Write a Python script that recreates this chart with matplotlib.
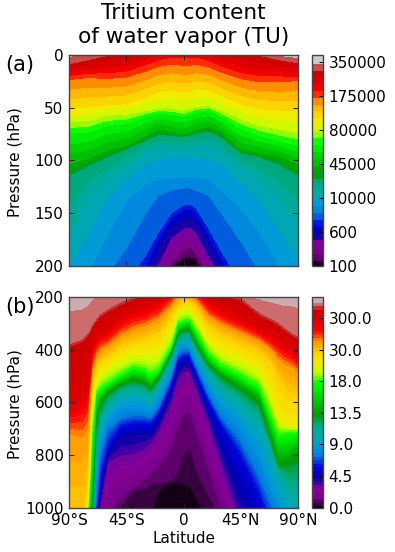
import matplotlib
matplotlib.use('Agg')
import matplotlib.pyplot as plt
import numpy as np

# panel (a): stratosphere, pressure (hPa) at which each colour level is met
lat_a = [-90, -75, -60, -45, -30, -20, -10, 0, 5, 10, 20, 30, 45, 60, 75, 90]
rows_a = {
    0: [260] * 16,
    1: [250, 250, 250, 245, 230, 220, 201, 192, 191, 193, 215, 230, 245, 250, 250, 252],
    2: [245, 245, 245, 240, 225, 215, 196, 184, 182, 187, 210, 225, 240, 245, 245, 247],
    3: [240, 240, 240, 235, 220, 208, 185, 173, 172, 175, 200, 218, 235, 240, 240, 242],
    4: [235, 235, 235, 230, 215, 197, 173, 164, 163, 167, 190, 210, 230, 235, 235, 237],
    5: [232, 232, 232, 226, 207, 182, 163, 155, 153, 157, 177, 200, 226, 232, 232, 234],
    6: [230, 228, 226, 222, 200, 174, 155, 147, 146, 150, 170, 193, 222, 226, 228, 230],
    7: [226, 224, 222, 215, 190, 168, 150, 142, 141, 145, 164, 186, 215, 222, 224, 226],
    8: [222, 218, 208, 183, 150, 133, 128, 126, 126, 128, 133, 150, 176, 206, 218, 222],
    9: [215, 207, 170, 138, 122, 118, 116, 115, 115, 116, 118, 128, 145, 168, 200, 212],
    10: [200, 170, 135, 118, 103, 99, 97, 96, 96, 97, 99, 103, 120, 137, 165, 192],
    11: [170, 135, 118, 105, 92, 87, 87, 88, 87, 86, 86, 92, 105, 118, 135, 160],
    13: [114, 104.5, 96.5, 88.5, 80.5, 75, 76, 77, 76, 74, 72, 77.5, 92, 96.5, 103, 114],
    15: [103, 98, 90, 85.5, 76, 69.5, 72, 74, 72, 69.5, 67.5, 72, 88.5, 92, 95, 103],
    18: [74, 73, 66.5, 65, 58.5, 55, 56, 58, 56, 54, 52, 58.5, 69.5, 76, 81, 85.5],
    20: [63, 62, 57, 56, 52, 50, 50, 52, 50, 48.5, 47.5, 52, 60, 66.5, 70, 73],
    22: [50.5, 49, 47, 46, 39.5, 35, 32.5, 35, 34, 31.5, 33, 38, 46, 50.5, 52, 52],
    25: [23, 21, 22, 20.5, 15, 10.5, 8.5, 9.5, 9.5, 8.5, 11, 16, 22, 25, 25, 24],
    27: [15, 13, 11, 9.5, 3, -1.5, -5, -6, -6, -5, -1.5, 4, 10.5, 13, 14, 16],
    29: [8, 4, 0, -5, -10, -11, -11, -11, -11, -11, -11, -10, -5, 0, 4, 7],
    30: [1, -2, -5, -8, -15, -15, -15, -15, -15, -15, -15, -15, -8, -5, 0, 2],
    31: [-20] * 16,
}
ticks_a = [100, 600, 10000, 45000, 80000, 175000, 350000]

# panel (b): troposphere
lat_b = [-90, -80, -76, -74, -72, -69, -66, -60, -50, -40, -30, -26, -20, -10, -5,
         0, 5, 10, 20, 30, 45, 60, 70, 75, 80, 85, 90]
rows_b = {
    0: [1500] * 27,
    1: [1470, 1440, 1390, 1350, 1340, 1220, 1160, 1130, 1050, 984, 1050, 1030, 930, 905, 905, 908, 915, 960, 1040, 1100, 1130, 1200, 1290, 1300, 1310, 1320, 1300],
    2: [1440, 1410, 1360, 1320, 1310, 1190, 1130, 1080, 1000, 930, 925, 910, 905, 895, 858, 790, 768, 850, 950, 1050, 1100, 1170, 1260, 1270, 1280, 1290, 1270],
    3: [1410, 1380, 1330, 1290, 1280, 1150, 1090, 1030, 960, 925, 890, 870, 840, 770, 690, 640, 635, 700, 850, 1000, 1060, 1130, 1220, 1230, 1240, 1250, 1230],
    7: [1380, 1350, 1300, 1260, 1250, 1110, 1000, 825, 800, 794, 770, 750, 710, 598, 510, 484, 472, 541, 668, 830, 1050, 1150, 1180, 1190, 1200, 1210, 1190],
    9: [1350, 1320, 1270, 1230, 1220, 1072, 950, 800, 731, 725, 718, 718, 668, 554, 472, 453, 453, 510, 642, 770, 960, 1100, 1140, 1150, 1160, 1170, 1150],
    12: [1320, 1290, 1240, 1200, 1190, 1022, 895, 769, 693, 680, 680, 680, 642, 529, 440, 421, 427, 484, 598, 687, 800, 950, 1097, 1110, 1120, 1130, 1110],
    15: [1290, 1260, 1210, 1170, 1160, 971, 807, 706, 661, 649, 649, 655, 617, 503, 415, 402, 402, 459, 567, 655, 744, 883, 996, 1060, 1080, 1090, 1070],
    18: [1260, 1230, 1180, 1140, 1130, 895, 744, 661, 617, 604, 617, 623, 579, 478, 396, 383, 383, 434, 529, 604, 674, 781, 920, 971, 1022, 1047, 1022],
    21: [1230, 1200, 1150, 1110, 1097, 819, 693, 623, 573, 560, 573, 586, 541, 446, 377, 358, 358, 409, 491, 554, 611, 687, 807, 883, 920, 984, 971],
    27: [1200, 1170, 1120, 1080, 996, 668, 604, 560, 529, 510, 522, 541, 503, 409, 339, 320, 320, 371, 453, 497, 541, 592, 744, 826, 832, 807, 794],
    36: [1160, 1130, 1050, 946, 706, 567, 548, 529, 497, 468, 478, 497, 478, 390, 301, 291, 286, 326, 415, 459, 497, 541, 668, 725, 718, 716, 716],
    42: [1120, 1085, 1009, 769, 579, 520, 484, 459, 427, 408, 408, 405, 396, 320, 251, 238, 235, 270, 352, 396, 427, 465, 554, 655, 674, 680, 680],
    45: [1022, 1009, 895, 642, 516, 465, 440, 421, 383, 364, 352, 340, 333, 265, 225, 213, 213, 232, 305, 339, 371, 402, 450, 503, 541, 560, 573],
    48: [718, 731, 706, 579, 472, 425, 400, 383, 345, 320, 307, 295, 282, 230, 196, 187, 187, 206, 270, 301, 333, 364, 400, 434, 453, 465, 478],
    51: [655, 642, 604, 516, 421, 385, 365, 352, 307, 282, 270, 257, 244, 200, 175, 162, 162, 181, 238, 270, 301, 339, 370, 390, 409, 421, 446],
    54: [623, 567, 541, 478, 396, 350, 330, 320, 276, 250, 232, 220, 206, 170, 152, 143, 143, 162, 205, 238, 276, 314, 338, 358, 377, 390, 421],
    57: [387, 368, 349, 334, 311, 292, 273, 254, 229, 207, 185, 176, 166, 147, 140, 134, 134, 147, 172, 191, 210, 267, 292, 305, 324, 343, 355],
    58: [377, 358, 339, 324, 301, 282, 263, 244, 219, 197, 175, 166, 156, 137, 130, 124, 124, 137, 162, 181, 200, 257, 282, 295, 314, 333, 345],
    59: [251, 244, 232, 219, 206, 194, 181, 168] + [120] * 12 + [187, 206, 219, 225, 232, 232, 238],
    60: [100] * 27,
}
ticks_b = ['0.0', '4.5', '9.0', '13.5', '18.0', '30.0', '300.0']

lat_ticks = [-90, -45, 0, 45, 90]
lat_labels = ['90°S', '45°S', '0', '45°N', '90°N']
frame = '#444444'
W, H = 395.0, 552.0


def panel(top, bottom, lat, rows, nband, off, step, ticklabels, yticks, ylim, letter):
    ax = fig.add_axes([69 / W, 1 - bottom / H, 229 / W, (bottom - top) / H])
    cax = fig.add_axes([312 / W, 1 - bottom / H, 11 / W, (bottom - top) / H])
    idx = sorted(rows)
    X, Z = np.meshgrid(lat, idx)
    Y = np.array([rows[i] for i in idx], dtype=float)
    cols = [plt.cm.nipy_spectral((i + off) / (nband - 1 + off * (1 if off < 0.5 else 2)))
            for i in range(nband)]
    cf = ax.contourf(X, Y, Z, levels=np.arange(nband + 1), colors=cols)
    cf.set_edgecolor('face')
    cf.set_linewidth(0.5)
    ax.set_xlim(-90, 90)
    ax.set_ylim(ylim)
    ax.set_xticks(lat_ticks)
    ax.set_yticks(yticks)
    ax.tick_params(direction='in', top=True, right=True, length=3.5, width=0.7,
                   labelsize=11, pad=4, color='#222222')
    ax.set_ylabel('Pressure (hPa)', fontsize=11, va='center')
    ax.yaxis.set_label_coords(-54 / 229, 0.49)
    cb = fig.colorbar(cf, cax=cax, ticks=np.arange(len(ticklabels)) * step)
    cb.solids.set_edgecolor('face')
    cb.ax.set_yticklabels(ticklabels)
    cb.ax.tick_params(direction='in', length=3, width=0.7, labelsize=11, pad=4)
    cb.ax.minorticks_off()
    cb.outline.set_edgecolor(frame)
    cb.outline.set_linewidth(1.0)
    for s in ax.spines.values():
        s.set_edgecolor(frame)
        s.set_linewidth(1.0)
    fig.text(5 / W, 1 - (top + 10) / H, letter, fontsize=15, ha='left', va='center')
    return ax


fig = plt.figure(figsize=(3.95, 5.52), dpi=100)

ax_a = panel(55, 265.5, lat_a, rows_a, 31, 0.3, 5, [str(t) for t in ticks_a],
             [0, 50, 100, 150, 200], (200, 0), '(a)')
ax_a.set_xticklabels([])

ax_b = panel(297, 507.5, lat_b, rows_b, 60, 0.5, 9, ticks_b,
             [200, 400, 600, 800, 1000], (1000, 200), '(b)')
ax_b.set_xticklabels(lat_labels)
ax_b.set_xlabel('Latitude', fontsize=11, labelpad=2)

fig.text(183.5 / W, 1 - 25 / H, 'Tritium content\nof water vapor (TU)', fontsize=15.6,
         ha='center', va='center', linespacing=1.2)

fig.savefig('out.png', dpi=100)
